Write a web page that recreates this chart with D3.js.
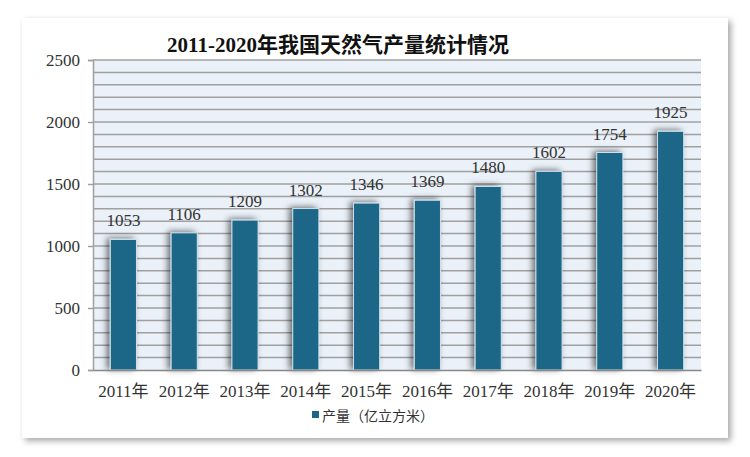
<!DOCTYPE html>
<html><head><meta charset="utf-8">
<script src="https://cdn.jsdelivr.net/npm/d3@7/dist/d3.min.js"></script>
<style>
html,body{margin:0;padding:0;background:#fff;}
svg{display:block;}
</style></head>
<body>
<svg id="chart" width="750" height="457"></svg>
<script>
const years = ["2011年","2012年","2013年","2014年","2015年","2016年","2017年","2018年","2019年","2020年"];
const production = [1053,1106,1209,1302,1346,1369,1480,1602,1754,1925];
const yTicks = [0,500,1000,1500,2000,2500];
const titleText = "2011-2020年我国天然气产量统计情况";
const legendText = "产量（亿立方米）";

const serif = "'Liberation Serif','Noto Sans CJK SC',serif";
const svg = d3.select("#chart");
const defs = svg.append("defs");
const cardF = defs.append("filter").attr("id","cardShadow").attr("x","-10%").attr("y","-10%").attr("width","120%").attr("height","120%");
cardF.append("feDropShadow").attr("dx",3).attr("dy",3).attr("stdDeviation",3).attr("flood-color","#000").attr("flood-opacity",0.35);
const barF = defs.append("filter").attr("id","barShadow").attr("x","-50%").attr("y","-10%").attr("width","200%").attr("height","120%");
barF.append("feDropShadow").attr("dx",-3).attr("dy",-1).attr("stdDeviation",3).attr("flood-color","#000").attr("flood-opacity",0.55);

svg.append("rect").attr("x",22).attr("y",18).attr("width",706).attr("height",420)
  .attr("fill","#fff").attr("filter","url(#cardShadow)");

const m = {left:93, top:60, right:701, bottom:370};
const x = d3.scaleBand().domain(years).range([m.left,m.right]).paddingInner(0.57).paddingOuter(0.285);
const y = d3.scaleLinear().domain([0,2500]).range([m.bottom,m.top]);

svg.append("rect").attr("x",m.left).attr("y",m.top).attr("width",m.right-m.left).attr("height",m.bottom-m.top).attr("fill","#eaf1f8");

const grid = d3.range(100,2501,100);
svg.append("g").selectAll("line").data(grid).join("line")
  .attr("x1",m.left).attr("x2",m.right).attr("y1",d=>y(d)).attr("y2",d=>y(d))
  .attr("stroke","#a0a0a0").attr("stroke-width",1.5);

// y axis
const yAxis = svg.append("g").attr("transform",`translate(${m.left},0)`)
  .call(d3.axisLeft(y).tickValues(yTicks).tickFormat(d3.format("d")).tickSize(5).tickPadding(8));
yAxis.select(".domain").attr("stroke","#a0a0a0").attr("stroke-width",1.5);
yAxis.selectAll(".tick line").attr("stroke","#a0a0a0").attr("stroke-width",1.5);
yAxis.selectAll("text").attr("font-family",serif).attr("font-size",17).attr("fill","#333");

// bars
svg.append("g").selectAll("rect").data(production).join("rect")
  .attr("x",(d,i)=>x(years[i])).attr("width",x.bandwidth())
  .attr("y",d=>y(d)).attr("height",d=>y(0)-y(d))
  .attr("fill","#1b6688").attr("stroke","#cfe0ec").attr("stroke-width",1)
  .attr("filter","url(#barShadow)");

// x axis
const xAxis = svg.append("g").attr("transform",`translate(0,${m.bottom})`)
  .call(d3.axisBottom(x).tickSize(0).tickPadding(15));
xAxis.select(".domain").attr("stroke","#888").attr("stroke-width",1.5);
xAxis.selectAll("text").attr("font-family",serif).attr("font-size",17).attr("fill","#333");

// value labels
svg.append("g").selectAll("text").data(production).join("text")
  .attr("x",(d,i)=>x(years[i])+x.bandwidth()/2).attr("y",d=>y(d)-13)
  .attr("text-anchor","middle").attr("font-family",serif).attr("font-size",17).attr("fill","#333")
  .text(d=>d);

// title
svg.append("text").attr("x",338).attr("y",52).attr("text-anchor","middle")
  .attr("font-family",serif).attr("font-size",21).attr("font-weight","bold").attr("fill","#111")
  .text(titleText);

// legend
const lg = svg.append("g").attr("transform","translate(312,421)");
lg.append("rect").attr("x",0).attr("y",-10).attr("width",7).attr("height",7).attr("fill","#1b6688");
lg.append("text").attr("x",10).attr("y",0).attr("font-family","'Noto Sans CJK SC',sans-serif").attr("font-size",14).attr("fill","#333").text(legendText);
</script>
</body></html>
